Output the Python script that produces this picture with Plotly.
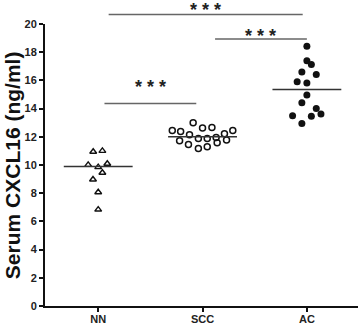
import plotly.graph_objects as go

categories = ["NN", "SCC", "AC"]

nn_vals = [10.94, 11.0, 10.01, 9.85, 10.09, 9.45, 8.97, 8.07, 6.84]
nn_off = [-0.048, 0.04, -0.096, 0.0, 0.087, 0.04, -0.05, 0.0, 0.0]

scc_vals = [12.45, 12.38, 13.0, 12.62, 12.66, 12.45, 12.14, 12.22, 11.72,
            11.88, 11.88, 11.95, 11.77, 11.46, 11.58, 11.17, 11.29]
scc_off = [-0.29, -0.21, -0.09, 0.0, 0.09, 0.29, -0.125, 0.21, -0.22,
           -0.04, 0.045, 0.13, 0.23, -0.135, 0.14, -0.04, 0.045]

ac_vals = [18.42, 17.40, 17.12, 16.60, 16.41, 15.91, 15.82, 14.96, 14.42,
           14.01, 13.49, 13.45, 13.62, 12.95]
ac_off = [0.0, 0.0, 0.043, -0.048, 0.09, -0.093, 0.0, 0.0, -0.048,
          0.09, -0.137, 0.043, 0.135, -0.048]

means = [9.9, 12.0, 15.36]
mean_half = 0.33

sig_x0 = [0.10, 1.12, 0.06]
sig_x1 = [1.96, 2.0, 0.94]
sig_y = [20.67, 18.94, 14.37]
sig_text_y = [21.0, 19.15, 15.55]
sig_label = "* * *"

y_ticks = list(range(0, 21, 2))
x_range = [-0.51, 2.49]
y_range = [0, 20]

FONT = "Liberation Sans, Arial, sans-serif"
INK = "#111111"

fig = go.Figure()

def xs(i, offs):
    return [i + o for o in offs]

fig.add_trace(go.Scatter(
    x=xs(0, nn_off), y=nn_vals, mode="markers",
    marker=dict(symbol="triangle-up-open", size=6, color=INK, line=dict(width=1.4)),
    cliponaxis=False, showlegend=False))
fig.add_trace(go.Scatter(
    x=xs(1, scc_off), y=scc_vals, mode="markers",
    marker=dict(symbol="circle-open", size=6, color=INK, line=dict(width=1.5)),
    cliponaxis=False, showlegend=False))
fig.add_trace(go.Scatter(
    x=xs(2, ac_off), y=ac_vals, mode="markers",
    marker=dict(symbol="circle", size=7, color=INK),
    cliponaxis=False, showlegend=False))

for i, m in enumerate(means):
    fig.add_shape(type="line", xref="x", yref="y",
                  x0=i - mean_half, x1=i + mean_half, y0=m, y1=m,
                  line=dict(color="#333333", width=1.5))

def px_x(v):
    return (v - x_range[0]) / (x_range[1] - x_range[0])

def px_y(v):
    return (v - y_range[0]) / (y_range[1] - y_range[0])

for x0, x1, y, ty in zip(sig_x0, sig_x1, sig_y, sig_text_y):
    fig.add_shape(type="line", xref="paper", yref="paper",
                  x0=px_x(x0), x1=px_x(x1), y0=px_y(y), y1=px_y(y),
                  line=dict(color="#666666", width=1.5))
    fig.add_annotation(x=px_x((x0 + x1) / 2), y=px_y(ty), xref="paper", yref="paper",
                       text=sig_label, showarrow=False,
                       font=dict(family=FONT, size=18, color="#222222", weight="bold"),
                       xanchor="center", yanchor="middle")

fig.add_annotation(x=-0.105, y=0.5, xref="paper", yref="paper",
                   text="Serum CXCL16 (ng/ml)", showarrow=False, textangle=-90,
                   font=dict(family=FONT, size=21, color="#111111", weight="bold"),
                   xanchor="center", yanchor="middle")

fig.update_layout(
    width=360, height=325,
    margin=dict(l=45, r=2, t=24, b=19),
    plot_bgcolor="white", paper_bgcolor="white",
    font=dict(family=FONT, color="#222222"),
)
fig.update_xaxes(
    range=x_range, tickvals=[0, 1, 2], ticktext=categories,
    showline=True, linecolor=INK, linewidth=2,
    ticks="outside", ticklen=4, tickwidth=1.5, tickcolor=INK,
    showgrid=False, zeroline=False, automargin=False,
    ticklabelstandoff=-2,
    tickfont=dict(family=FONT, size=11, color="#222222", weight="bold"),
)
fig.update_yaxes(
    range=y_range, tickvals=y_ticks,
    showline=True, linecolor=INK, linewidth=2,
    ticks="outside", ticklen=4, tickwidth=1.5, tickcolor=INK,
    showgrid=False, zeroline=False, automargin=False,
    tickfont=dict(family=FONT, size=11, color="#222222", weight="bold"),
)

fig.write_html("out.html", config={"displayModeBar": False},
               post_script="document.body.style.margin='0';document.body.style.overflow='hidden';")
